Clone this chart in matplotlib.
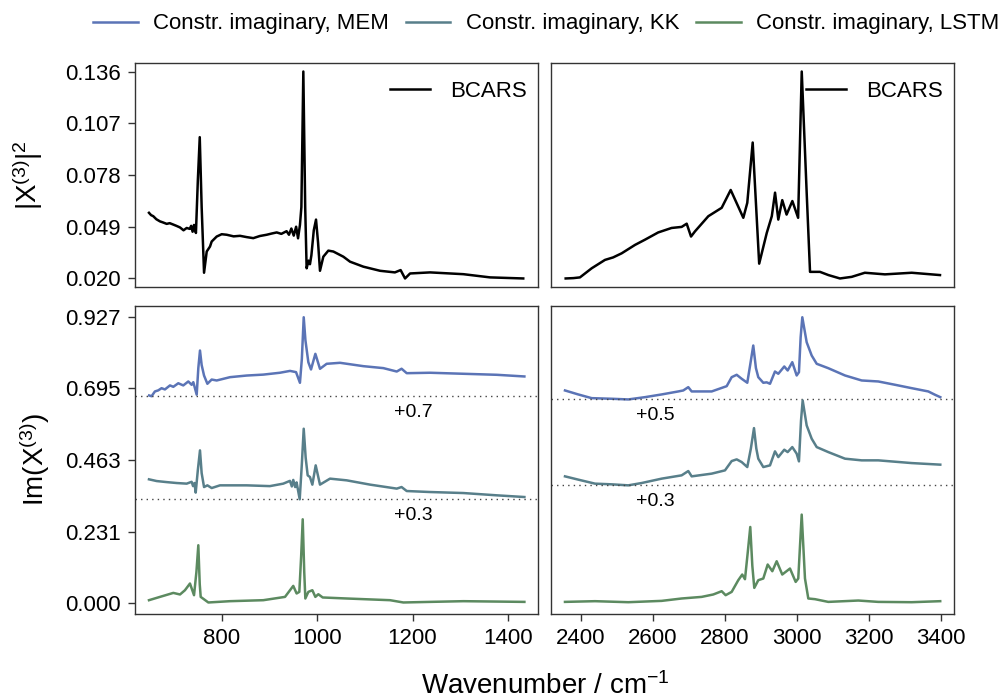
import matplotlib
import matplotlib.pyplot as plt
import numpy as np

matplotlib.use("Agg")

plt.rcParams["font.family"] = ["Liberation Sans", "DejaVu Sans"]
plt.rcParams["mathtext.fontset"] = "custom"
plt.rcParams["mathtext.rm"] = "Liberation Sans"
plt.rcParams["mathtext.it"] = "Liberation Sans:italic"

# ---- fingerprint region (left column) ----
bcars_left_wn = [647.6, 652, 656.6, 663, 670.6, 677, 684.7, 691, 698.6, 705, 712.6, 720, 726.6,
                 733, 736, 739, 742, 746, 750, 754, 758, 763, 768.6, 775.5, 779, 789.5, 800,
                 810.5, 825, 838.4, 852, 866.2, 880, 894.3, 905, 915.3, 925,
                 936, 941, 946, 951, 956, 960, 964, 967, 971.1, 975, 978, 982, 985, 988, 993,
                 997.7, 1002, 1006, 1013, 1023.5, 1034, 1055, 1069, 1097, 1131.9, 1163, 1175,
                 1184.3, 1194.8, 1236.7, 1306.5, 1362.5, 1432]
bcars_left = [0.0568, 0.0555, 0.0549, 0.0532, 0.0520, 0.0514, 0.0506, 0.0510, 0.0502, 0.0495,
              0.0486, 0.0470, 0.0483, 0.0478, 0.0495, 0.0462, 0.0500, 0.0455, 0.0750, 0.0992,
              0.0600, 0.0232, 0.0351, 0.0379, 0.0407, 0.0435, 0.0448, 0.0445, 0.0436, 0.0439,
              0.0432, 0.0426, 0.0438, 0.0445, 0.0452, 0.0458, 0.0450, 0.0465, 0.0445, 0.0480,
              0.0440, 0.0490, 0.0425, 0.0500, 0.0600, 0.1360, 0.0600, 0.0257, 0.0300, 0.0280,
              0.0330, 0.0470, 0.0530, 0.0400, 0.0243, 0.0322, 0.0356, 0.0351, 0.0322, 0.0294,
              0.0266, 0.0243, 0.0234, 0.0247, 0.0200, 0.0228, 0.0234, 0.0224, 0.0206, 0.0200]

mem_left_wn = [648, 653, 660, 667, 674, 681, 691.6, 698.6, 709, 719.5, 730, 737, 740.5, 747.6,
               751, 754.5, 758, 763, 770, 779, 789.5, 817.4, 852.4, 887.2, 922, 943.2, 955.8,
               964, 968, 971.9, 975.5, 981.6, 987.2, 996.3, 1006, 1020, 1048, 1097, 1138.8,
               1166.9, 1177, 1187.8, 1236.7, 1306.5, 1376.5, 1434.4]
mem_left = [-0.0285, -0.031, -0.0155, -0.012, -0.005, -0.009, 0.004, -0.0005, 0.011, 0.004,
            0.0168, 0.006, 0.0145, -0.026, 0.06, 0.117, 0.07, 0.036, 0.0093, 0.023, 0.020,
            0.0307, 0.036, 0.039, 0.045, 0.051, 0.047, 0.0125, 0.09, 0.2247, 0.15, 0.079,
            0.0556, 0.1063, 0.0578, 0.074, 0.0772, 0.0663, 0.060, 0.049, 0.058, 0.0436, 0.045,
            0.0417, 0.0384, 0.033]

kk_left_wn = [647.6, 663.7, 684.7, 705.7, 726.6, 737, 740, 743, 745.5, 750, 754.5, 758, 763,
              770, 779, 796.4, 852.4, 901, 929, 943, 947, 950, 954, 957, 963.5, 968, 971.9, 976,
              980.2, 985, 990, 997, 1006, 1027, 1062, 1111, 1166.9, 1177, 1187.8, 1236.7,
              1306.5, 1376.5, 1434.4]
kk_left = [0.100, 0.0944, 0.091, 0.088, 0.086, 0.092, 0.078, 0.088, 0.057, 0.13, 0.1937, 0.12,
           0.075, 0.0805, 0.0718, 0.0805, 0.0805, 0.078, 0.086, 0.095, 0.077, 0.098, 0.075,
           0.090, 0.0353, 0.15, 0.2638, 0.17, 0.1129, 0.1074, 0.0828, 0.1452, 0.0828, 0.1022,
           0.0967, 0.0828, 0.0699, 0.075, 0.0621, 0.0589, 0.0556, 0.0482, 0.0427]

lstm_left_wn = [647.6, 670.6, 698.6, 712.6, 723, 733.5, 742, 747, 751, 754, 756, 772, 817.4,
                887.2, 932.7, 950, 957, 962.7, 966.5, 969.8, 973, 975.3, 981.6, 990, 996.3,
                1002.5, 1011.7, 1062, 1152.8, 1180.7, 1236.7, 1306.5, 1434.4]
lstm_left = [0.0087, 0.0194, 0.0323, 0.0272, 0.041, 0.0627, 0.0249, 0.10, 0.1866, 0.06, 0.0194,
             0.0013, 0.0055, 0.0087, 0.0194, 0.055, 0.0304, 0.0356, 0.15, 0.2706, 0.10, 0.0142,
             0.0356, 0.041, 0.0194, 0.028, 0.0175, 0.0142, 0.0087, 0.0013, 0.0032, 0.0055,
             0.0032]

# ---- CH stretch region (right column) ----
bcars_right_wn = [2358.4, 2380, 2398, 2430.5, 2467.4, 2490, 2513.7, 2550.6, 2578, 2615, 2652,
                  2680, 2694, 2706, 2717, 2754, 2791, 2816, 2851, 2862, 2877, 2895, 2916, 2930,
                  2939, 2948, 2959, 2971, 2987, 3003, 3013, 3026.7, 3036, 3063.6, 3087, 3119,
                  3151.5, 3188, 3243.8, 3318, 3396.4]
bcars_right = [0.0200, 0.0202, 0.0206, 0.0257, 0.0304, 0.0318, 0.0341, 0.0388, 0.0417, 0.0458,
               0.0483, 0.0489, 0.0507, 0.0435, 0.0464, 0.0549, 0.0596, 0.0696, 0.0540, 0.0624,
               0.0962, 0.0283, 0.0455, 0.0549, 0.0681, 0.0530, 0.0639, 0.0558, 0.0634, 0.0540,
               0.1360, 0.0681, 0.0237, 0.0237, 0.0219, 0.0200, 0.0209, 0.0232, 0.0223, 0.0232,
               0.0219]

mem_right_wn = [2356.5, 2393.3, 2430.5, 2486, 2532, 2578.3, 2624.6, 2670.7, 2684.5, 2698.4,
                2707.8, 2763.3, 2804.9, 2818.7, 2832.6, 2846.5, 2862, 2870, 2878.6, 2886,
                2892.5, 2906.4, 2915.8, 2925, 2938.8, 2948, 2964.6, 2974, 2986.8, 2999, 3005.3,
                3010, 3014.6, 3026.7, 3040.6, 3054.5, 3086.6, 3133, 3179.3, 3225.3, 3271.6,
                3317.9, 3364, 3382.5, 3397.2]
mem_right = [0.1877, 0.1748, 0.1628, 0.1608, 0.1586, 0.166, 0.1748, 0.1845, 0.1877, 0.1984,
             0.1845, 0.1845, 0.2016, 0.2307, 0.2384, 0.2255, 0.2126, 0.27, 0.3332, 0.26, 0.2307,
             0.2126, 0.214, 0.2093, 0.249, 0.2417, 0.2653, 0.2524, 0.2792, 0.2362, 0.2469, 0.36,
             0.4247, 0.3438, 0.3008, 0.274, 0.2598, 0.2362, 0.220, 0.2168, 0.2061, 0.1951,
             0.1845, 0.1738, 0.166]

kk_right_wn = [2356.5, 2393.3, 2439.7, 2486, 2532, 2569, 2624.6, 2680, 2698.4, 2707.8, 2763.3,
               2800.2, 2818.7, 2832.6, 2846.5, 2862, 2872, 2880.6, 2887, 2892.5, 2906.4, 2925,
               2938.8, 2948, 2964.6, 2974, 2986.8, 2999, 3005.3, 3011, 3015.6, 3026.7, 3040.6,
               3054.5, 3086.6, 3133, 3179.3, 3225.3, 3317.9, 3397.2]
kk_right = [0.1096, 0.099, 0.086, 0.0838, 0.0805, 0.088, 0.1022, 0.1129, 0.1268, 0.1096, 0.1184,
            0.129, 0.1591, 0.1646, 0.1559, 0.1397, 0.20, 0.2658, 0.20, 0.1668, 0.1397, 0.1452,
            0.1905, 0.172, 0.1959, 0.1882, 0.2044, 0.183, 0.1581, 0.29, 0.3554, 0.2745, 0.2315,
            0.2044, 0.1882, 0.1668, 0.1614, 0.1614, 0.1526, 0.1475]

lstm_right_wn = [2356.5, 2439.7, 2532, 2624.6, 2680, 2735.5, 2767.7, 2791, 2802, 2818.7, 2837,
                 2848, 2855.6, 2863, 2870.3, 2876, 2881.4, 2892.5, 2906.4, 2918.6, 2931.4, 2943.5,
                 2959, 2980.4, 2996.2, 3003.4, 3008, 3012.9, 3018, 3022, 3031.2, 3049.8, 3086.6,
                 3170, 3225, 3318, 3397]
lstm_right = [0.0032, 0.0055, 0.0022, 0.0065, 0.0142, 0.0194, 0.0272, 0.0378, 0.0249, 0.0356,
              0.0734, 0.0918, 0.0766, 0.16, 0.2457, 0.12, 0.0485, 0.0734, 0.0789, 0.1242, 0.1025,
              0.1348, 0.0918, 0.1112, 0.0679, 0.0789, 0.18, 0.2858, 0.17, 0.0789, 0.0142, 0.012,
              0.0032, 0.0076, 0.0032, 0.0022, 0.0055]

# vertical offsets applied to the stacked traces
offsets_left = {"MEM": 0.7, "KK": 0.3}
offsets_right = {"MEM": 0.5, "KK": 0.3}

top_ticks = [0.020, 0.049, 0.078, 0.107, 0.136]
bottom_ticks = [0.000, 0.231, 0.463, 0.695, 0.927]

COLORS = {"MEM": "#5b74b6", "KK": "#587f8a", "LSTM": "#5c8a60"}
LABELS = {"MEM": "Constr. imaginary, MEM", "KK": "Constr. imaginary, KK",
          "LSTM": "Constr. imaginary, LSTM"}

fig = plt.figure(figsize=(10.08, 6.98), dpi=100)
ax_tl = fig.add_axes([0.1336, 0.5893, 0.4004, 0.3200])
ax_tr = fig.add_axes([0.5463, 0.5893, 0.4004, 0.3200])
ax_bl = fig.add_axes([0.1336, 0.1199, 0.4004, 0.4421])
ax_br = fig.add_axes([0.5463, 0.1199, 0.4004, 0.4421])

for ax in (ax_tl, ax_tr, ax_bl, ax_br):
    for sp in ax.spines.values():
        sp.set_color("#333333")
        sp.set_linewidth(1.0)
    ax.tick_params(direction="out", length=5, width=1, color="#333333",
                   labelsize=16, pad=5)

# top row: BCARS
ax_tl.plot(bcars_left_wn, bcars_left, color="black", lw=1.8, label="BCARS")
ax_tr.plot(bcars_right_wn, bcars_right, color="black", lw=1.8, label="BCARS")
for ax in (ax_tl, ax_tr):
    ax.set_ylim(0.0154, 0.1406)
    ax.set_xticks([])
    ax.legend(loc="upper right", bbox_to_anchor=(1.0, 0.97), frameon=False, fontsize=16,
              handlelength=1.8, handletextpad=0.9, borderaxespad=0.1)
ax_tl.set_yticks(top_ticks)
ax_tl.set_yticklabels([f"{t:.3f}" for t in top_ticks])
ax_tr.set_yticks([])

# bottom row: constructed imaginary parts with offsets
def draw_stack(ax, curves, offsets, text_x):
    for key, (wn, vals) in curves.items():
        shifted = np.asarray(vals) + offsets.get(key, 0.0)
        ax.plot(wn, shifted, color=COLORS[key], lw=1.8, label=LABELS[key])
        if key in offsets:
            ax.axhline(shifted.min(), color="#444444", lw=1.0, ls=(0, (1, 3)))
            ax.text(text_x, shifted.min() - 0.052, f"+{offsets[key]}", fontsize=14,
                    ha="center", va="center")

draw_stack(ax_bl, {"MEM": (mem_left_wn, mem_left), "KK": (kk_left_wn, kk_left),
                   "LSTM": (lstm_left_wn, lstm_left)}, offsets_left, 1201)
draw_stack(ax_br, {"MEM": (mem_right_wn, mem_right), "KK": (kk_right_wn, kk_right),
                   "LSTM": (lstm_right_wn, lstm_right)}, offsets_right, 2606)

for ax in (ax_bl, ax_br):
    ax.set_ylim(-0.037, 0.962)
ax_bl.set_yticks(bottom_ticks)
ax_bl.set_yticklabels([f"{t:.3f}" for t in bottom_ticks])
ax_br.set_yticks([])

ax_tl.set_xlim(617.6, 1463.5)
ax_bl.set_xlim(617.6, 1463.5)
ax_tr.set_xlim(2316.8, 3436)
ax_br.set_xlim(2316.8, 3436)
ax_bl.set_xticks([800, 1000, 1200, 1400])
ax_br.set_xticks([2400, 2600, 2800, 3000, 3200, 3400])

fig.text(0.028, 0.749, r"$\mathrm{|X^{(3)}|^2}$", rotation=90, fontsize=20,
         ha="center", va="center")
fig.text(0.034, 0.341, r"$\mathrm{Im(X^{(3)})}$", rotation=90, fontsize=20,
         ha="center", va="center")
fig.text(0.5407, 0.017, r"Wavenumber / cm$^{\mathrm{-1}}$", fontsize=20,
         ha="center", va="center")

handles, labels = ax_bl.get_legend_handles_labels()
fig.legend(handles, labels, loc="upper center", bbox_to_anchor=(0.542, 1.0), ncol=3,
           frameon=False, fontsize=16, handlelength=2.0, handletextpad=0.7,
           columnspacing=0.75, borderaxespad=0.2)

fig.savefig("out.png", dpi=100)
